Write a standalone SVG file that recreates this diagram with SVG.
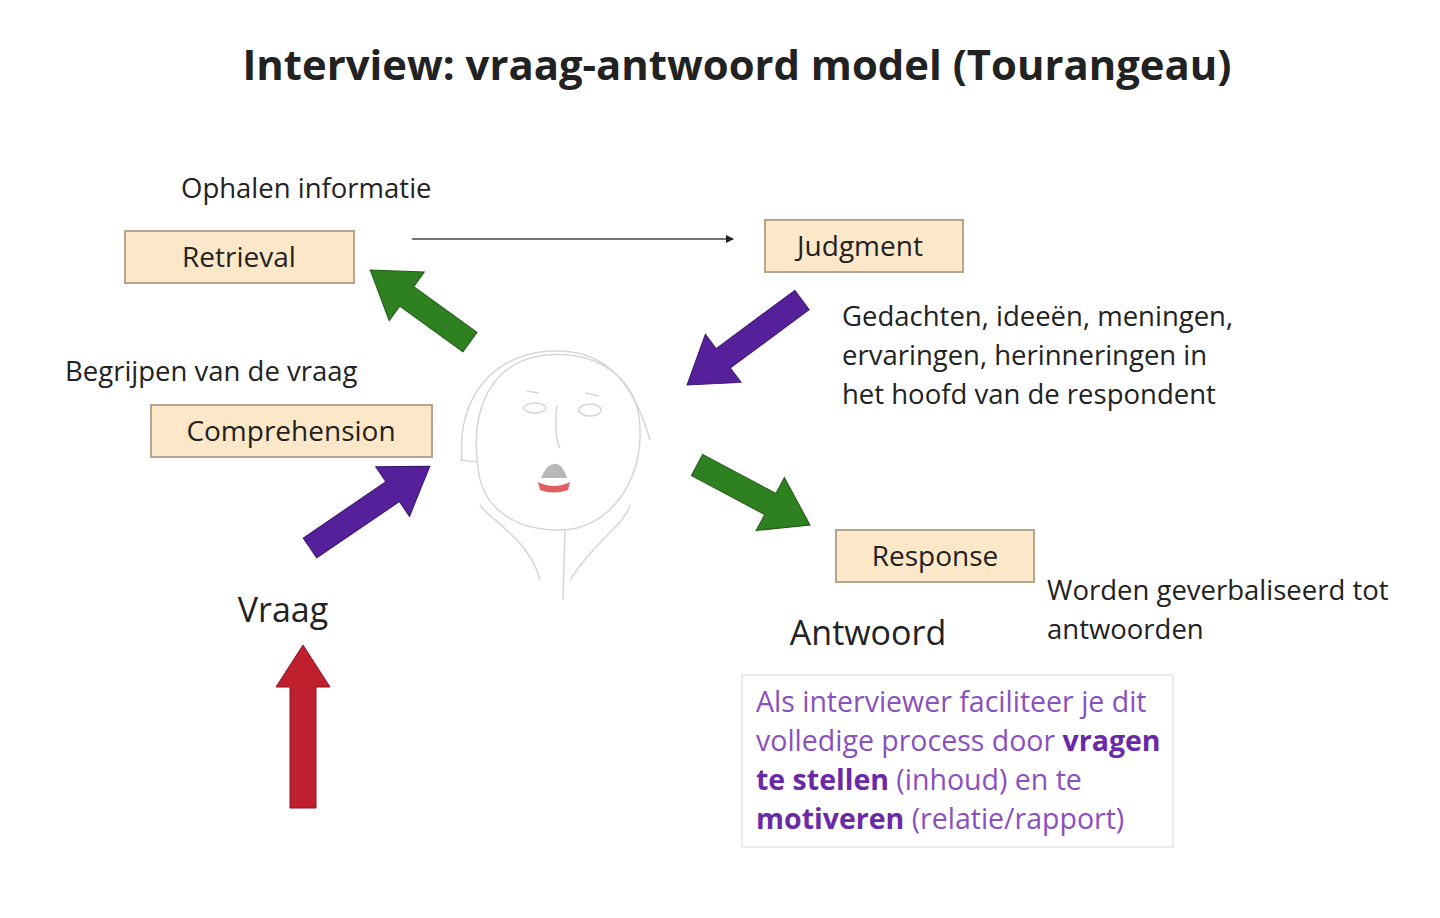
<svg xmlns="http://www.w3.org/2000/svg" width="1440" height="918" viewBox="0 0 1440 918">
<style>
text{font-family:"Open Sans","Liberation Sans",sans-serif;fill:#222}
.box{fill:#fce8c8;stroke:#b5a58f;stroke-width:2}
.bl{font-size:28px;text-anchor:middle}
.lb{font-size:27.5px}
.face{fill:none;stroke:#d6d6d6;stroke-width:1.5}
.pt{font-size:28.5px;fill:#8a50c0}
.pb{font-weight:bold;fill:#6a2aa8}
</style>
<defs>
<marker id="ah" markerWidth="8" markerHeight="8" refX="7" refY="4" orient="auto" markerUnits="userSpaceOnUse"><path d="M0,0 L8,4 L0,8 z" fill="#222"/></marker>
</defs>
<rect width="1440" height="918" fill="#fff"/>
<text x="737" y="80" font-size="41.5" font-weight="bold" text-anchor="middle" fill="#111" textLength="989" lengthAdjust="spacingAndGlyphs">Interview: vraag-antwoord model (Tourangeau)</text>

<g id="face">
<path class="face" d="M478,468 C470,410 490,362 545,355 C600,350 640,380 640,430 C642,480 610,530 560,530 C510,530 482,505 478,468 Z"/>
<path class="face" d="M462,460 C458,410 480,362 540,352 C595,345 630,370 650,440"/>
<path d="M460,460 L478,462" class="face"/>
<ellipse class="face" cx="535" cy="408" rx="11" ry="5"/>
<ellipse class="face" cx="590" cy="410" rx="11" ry="6"/>
<path class="face" d="M527,391 l12,2 M585,393 l14,3 M557,405 C555,420 555,440 560,448"/>
<path d="M541,478 q6,-14 13,-14 q8,-2 13,14 z" fill="#b8b8b8"/>
<path d="M538,482 q16,8 32,0 l-2,8 q-14,5 -28,0 z" fill="#e06060"/>
<path class="face" d="M480,505 C490,520 530,540 540,580 M630,505 C625,525 595,540 570,580 M565,530 l-2,70"/>
</g>

<g id="connectors">
<line x1="412" y1="239" x2="733" y2="239" stroke="#444" stroke-width="1.5" marker-end="url(#ah)"/>
<polygon transform="translate(470,342) rotate(215.8)" points="0,-12 78,-12 78,-30 123,0 78,30 78,12 0,12" fill="#2e8020" stroke="#215a16" stroke-width="1"/>
<polygon transform="translate(802,300) rotate(143.5)" points="0,-12 98,-12 98,-30 143,0 98,30 98,12 0,12" fill="#56209a" stroke="#3d1570" stroke-width="1"/>
<polygon transform="translate(310,548) rotate(-34.3)" points="0,-12 100,-12 100,-30 145,0 100,30 100,12 0,12" fill="#56209a" stroke="#3d1570" stroke-width="1"/>
<polygon transform="translate(697,465) rotate(28)" points="0,-12 83,-12 83,-30 128,0 83,30 83,12 0,12" fill="#2e8020" stroke="#215a16" stroke-width="1"/>
<polygon points="290,808 290,687 276,687 303,645 330,687 316,687 316,808" fill="#c0202e" stroke="#8a1520" stroke-width="1"/>
</g>

<g id="retrieval"><rect class="box" x="125" y="231" width="229" height="52"/><text class="bl" x="239" y="267">Retrieval</text></g>
<g id="judgment"><rect class="box" x="765" y="220" width="198" height="52"/><text class="bl" x="860" y="256">Judgment</text></g>
<g id="comprehension"><rect class="box" x="151" y="405" width="281" height="52"/><text class="bl" x="291" y="441">Comprehension</text></g>
<g id="response"><rect class="box" x="836" y="530" width="198" height="52"/><text class="bl" x="935" y="566">Response</text></g>

<text class="lb" x="181" y="198">Ophalen informatie</text>
<text class="lb" x="65" y="381">Begrijpen van de vraag</text>
<text class="lb" x="842" y="326">Gedachten, ideeën, meningen,</text>
<text class="lb" x="842" y="365">ervaringen, herinneringen in</text>
<text class="lb" x="842" y="404">het hoofd van de respondent</text>
<text class="lb" x="1047" y="600">Worden geverbaliseerd tot</text>
<text class="lb" x="1047" y="639">antwoorden</text>
<text x="283" y="622" font-size="34" text-anchor="middle">Vraag</text>
<text x="868" y="645" font-size="34" text-anchor="middle">Antwoord</text>

<g id="note">
<rect x="742" y="675" width="431" height="172" fill="#fff" stroke="#e6e6e6" stroke-width="1.5"/>
<text class="pt" x="756" y="712">Als interviewer faciliteer je dit</text>
<text class="pt" x="756" y="751">volledige process door <tspan class="pb">vragen</tspan></text>
<text class="pt" x="756" y="790"><tspan class="pb">te stellen</tspan> (inhoud) en te</text>
<text class="pt" x="756" y="829"><tspan class="pb">motiveren</tspan> (relatie/rapport)</text>
</g>
</svg>
